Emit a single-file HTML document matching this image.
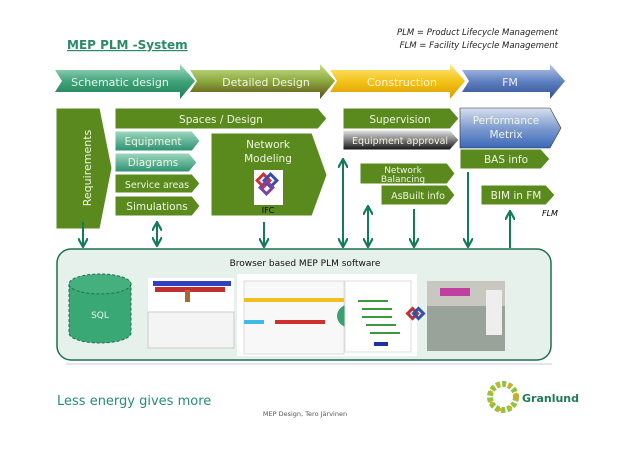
<!DOCTYPE html>
<html><head><meta charset="utf-8"><style>
body{margin:0;background:#fff;}
svg text{font-family:"DejaVu Sans","Liberation Sans",sans-serif;}
</style></head><body>
<svg width="638" height="452" viewBox="0 0 638 452" xmlns="http://www.w3.org/2000/svg">
<defs>
<linearGradient id="g1" x1="0" y1="0" x2="0" y2="1"><stop offset="0" stop-color="#a8dcc4"/><stop offset="0.5" stop-color="#3fa37a"/><stop offset="1" stop-color="#1f7a55"/></linearGradient>
<linearGradient id="g2" x1="0" y1="0" x2="0" y2="1"><stop offset="0" stop-color="#c8e08c"/><stop offset="0.5" stop-color="#8aa83e"/><stop offset="1" stop-color="#5a4a1a"/></linearGradient>
<linearGradient id="g3" x1="0" y1="0" x2="0" y2="1"><stop offset="0" stop-color="#ffe680"/><stop offset="0.5" stop-color="#f4c318"/><stop offset="1" stop-color="#d89a00"/></linearGradient>
<linearGradient id="g4" x1="0" y1="0" x2="0" y2="1"><stop offset="0" stop-color="#b8c8e8"/><stop offset="0.5" stop-color="#5f80c0"/><stop offset="1" stop-color="#2f4f90"/></linearGradient>
<linearGradient id="gt" x1="0" y1="0" x2="0" y2="1"><stop offset="0" stop-color="#9fd8c0"/><stop offset="1" stop-color="#2a9070"/></linearGradient>
<linearGradient id="gg" x1="0" y1="0" x2="0" y2="1"><stop offset="0" stop-color="#e8e8e8"/><stop offset="1" stop-color="#111"/></linearGradient>
<linearGradient id="gb" x1="0" y1="0" x2="0" y2="1"><stop offset="0" stop-color="#d8e0ee"/><stop offset="0.5" stop-color="#7f9cd0"/><stop offset="1" stop-color="#3a68b8"/></linearGradient>
<marker id="ah" viewBox="0 0 10 10" refX="8" refY="5" markerWidth="5" markerHeight="5" orient="auto-start-reverse"><path d="M0,0 L9,5 L0,10" fill="none" stroke="#157a5a" stroke-width="2.2"/></marker>
</defs>
<text x="67" y="49" font-size="12" font-weight="bold" fill="#2a8a6a" text-decoration="underline">MEP PLM -System</text>
<text x="558" y="35" font-size="8.5" font-style="italic" text-anchor="end" fill="#222" font-family="Liberation Sans Narrow,Liberation Sans,sans-serif">PLM = Product Lifecycle Management</text>
<text x="558" y="48" font-size="8.5" font-style="italic" text-anchor="end" fill="#222" font-family="Liberation Sans Narrow,Liberation Sans,sans-serif">FLM = Facility Lifecycle Management</text>
<!-- phases -->
<path d="M55,70 L180,70 L180,64 L195,81 L180,99 L180,92 L55,92 L62,81Z" fill="url(#g1)"/>
<text x="120" y="86" font-size="11" fill="#e6f5ee" text-anchor="middle">Schematic design</text>
<path d="M190,70 L320,70 L320,64 L335,81 L320,99 L320,92 L190,92 L197,81Z" fill="url(#g2)"/>
<text x="266" y="86" font-size="11" fill="#f3f6e0" text-anchor="middle">Detailed Design</text>
<path d="M330,70 L450,70 L450,64 L465,81 L450,99 L450,92 L330,92 L337,81Z" fill="url(#g3)"/>
<text x="402" y="86" font-size="11" fill="#fff6d8" text-anchor="middle">Construction</text>
<path d="M462,70 L550,70 L550,64 L565,81 L550,99 L550,92 L462,92 L469,81Z" fill="url(#g4)"/>
<text x="510" y="86" font-size="11" fill="#eef2fb" text-anchor="middle">FM</text>
<!-- green boxes -->
<g fill="#5a8a1e" stroke="#fff" stroke-width="1">
<path d="M56,108 L100,108 L112,168 L100,229 L56,229Z"/>
<path d="M115,108 L318,108 L327,118.5 L318,129 L115,129Z"/>
<path d="M115,174 L192,174 L200,183.5 L192,193 L115,193Z"/>
<path d="M115,196 L192,196 L200,206 L192,216 L115,216Z"/>
<path d="M211,133 L312,133 L327,175 L312,216 L211,216Z"/>
<path d="M343,108 L450,108 L459,118.5 L450,129 L343,129Z"/>
<path d="M360,163 L447,163 L455,173.5 L447,184 L360,184Z"/>
<path d="M381,185 L447,185 L455,195 L447,205 L381,205Z"/>
<path d="M460,149 L541,149 L550,159 L541,169 L460,169Z"/>
<path d="M481,185 L546,185 L555,195 L546,205 L481,205Z"/>
</g>
<path d="M115,131 L192,131 L200,141 L192,151 L115,151Z" fill="url(#gt)" stroke="#fff"/>
<path d="M115,153 L189,153 L197,162.5 L189,172 L115,172Z" fill="url(#gt)" stroke="#fff"/>
<path d="M343,130 L450,130 L459,140 L450,150 L343,150Z" fill="url(#gg)" stroke="#fff"/>
<path d="M460,108 L550,108 L561,128 L550,148 L460,148Z" fill="url(#gb)" stroke="#333" stroke-width="0.6"/>
<g fill="#f0f5e0" font-size="10.5" text-anchor="middle">
<text transform="translate(91,168) rotate(-90)" font-size="11">Requirements</text>
<text x="221" y="123">Spaces / Design</text>
<text x="153" y="145">Equipment</text>
<text x="153" y="166">Diagrams</text>
<text x="157" y="188" font-size="9.5">Service areas</text>
<text x="157" y="210">Simulations</text>
<text x="268" y="148">Network</text>
<text x="268" y="162">Modeling</text>
<text x="400" y="123">Supervision</text>
<text x="400" y="144" font-size="9.5">Equipment approval</text>
<text x="403" y="173" font-size="9">Network</text>
<text x="403" y="182" font-size="9">Balancing</text>
<text x="418" y="199" font-size="9.5">AsBuilt info</text>
<text x="506" y="124">Performance</text>
<text x="506" y="138">Metrix</text>
<text x="506" y="163">BAS info</text>
<text x="516" y="199">BIM in FM</text>
</g>
<!-- IFC logo -->
<rect x="254" y="170" width="29" height="35" fill="#fff"/>
<g fill="none" stroke-width="3"><rect x="259" y="176" width="9" height="9" transform="rotate(45 263.5 180.5)" stroke="#d03030"/><rect x="266" y="176" width="9" height="9" transform="rotate(45 270.5 180.5)" stroke="#3050b0"/><rect x="262" y="183" width="9" height="9" transform="rotate(45 266.5 187.5)" stroke="#8040a0"/></g>
<text x="268" y="213" font-size="8" fill="#000" text-anchor="middle" font-family="Liberation Sans Narrow,sans-serif">IFC</text>
<text x="542" y="216" font-size="8" font-style="italic" fill="#000">FLM</text>
<!-- arrows -->
<g stroke="#157a5a" stroke-width="2" fill="none">
<line x1="83" y1="222" x2="83" y2="246" marker-end="url(#ah)"/>
<line x1="157" y1="223" x2="157" y2="245" marker-start="url(#ah)" marker-end="url(#ah)"/>
<line x1="264" y1="222" x2="264" y2="246" marker-end="url(#ah)"/>
<line x1="343" y1="160" x2="343" y2="246" marker-start="url(#ah)" marker-end="url(#ah)"/>
<line x1="368" y1="207" x2="368" y2="246" marker-start="url(#ah)" marker-end="url(#ah)"/>
<line x1="414" y1="209" x2="414" y2="246" marker-end="url(#ah)"/>
<line x1="468" y1="172" x2="468" y2="246" marker-end="url(#ah)"/>
<line x1="510" y1="248" x2="510" y2="212" marker-end="url(#ah)"/>
</g>
<!-- bottom box -->
<rect x="57" y="249" width="494" height="111" rx="14" fill="#e5f1ea" stroke="#1f6e50" stroke-width="1.5"/>
<line x1="66" y1="364" x2="552" y2="364" stroke="#ccc"/>
<text x="305" y="266" font-size="9" fill="#111" text-anchor="middle">Browser based MEP PLM software</text>
<path d="M69,284 L69,333 A31,10 0 0 0 131,333 L131,284" fill="#3aa874" stroke="#1f6e50" stroke-dasharray="3,2"/>
<ellipse cx="100" cy="284" rx="31" ry="10" fill="#45b07e" stroke="#1f6e50" stroke-dasharray="3,2"/>
<text x="100" y="318" font-size="9" fill="#e8f5ee" text-anchor="middle">SQL</text>
<rect x="148" y="278" width="86" height="70" fill="#fff"/>
<rect x="153" y="281" width="78" height="5" fill="#3040c0"/><rect x="155" y="287" width="70" height="5" fill="#c03030"/><rect x="185" y="290" width="5" height="12" fill="#aa6633"/>
<rect x="148" y="312" width="86" height="36" fill="#f4f4f4" stroke="#ccc"/>
<rect x="237" y="274" width="180" height="82" fill="#fff"/>
<rect x="244" y="281" width="100" height="73" fill="#f8f8f8" stroke="#ddd"/>
<rect x="244" y="298" width="100" height="4" fill="#f0c020"/><rect x="244" y="320" width="20" height="4" fill="#40b8e8"/><rect x="275" y="320" width="50" height="4" fill="#d03030"/>
<ellipse cx="351" cy="316" rx="14" ry="12" fill="#3aa070"/><text x="351" y="320" font-size="7" fill="#eef" text-anchor="middle">SQL</text>
<rect x="345" y="281" width="66" height="71" fill="#fff" stroke="#ddd"/>
<g fill="#3a9a3a"><rect x="358" y="300" width="30" height="2"/><rect x="362" y="308" width="30" height="2"/><rect x="362" y="316" width="30" height="2"/><rect x="366" y="324" width="30" height="2"/><rect x="370" y="332" width="30" height="2"/><rect x="374" y="342" width="14" height="4" fill="#2030a0"/></g>
<g fill="none" stroke-width="3"><rect x="409" y="310" width="7" height="7" transform="rotate(45 412.5 313.5)" stroke="#c03030"/><rect x="415" y="310" width="7" height="7" transform="rotate(45 418.5 313.5)" stroke="#3050b0"/></g>
<rect x="427" y="281" width="78" height="70" fill="#9aa39a"/>
<rect x="427" y="281" width="78" height="25" fill="#c8c8c0"/><rect x="440" y="288" width="30" height="8" fill="#c040a0"/><rect x="486" y="290" width="16" height="45" fill="#eee"/>
<text x="57" y="405" font-size="13" fill="#2a8a7a" font-family="Liberation Sans,sans-serif">Less energy gives more</text>
<text x="305" y="416" font-size="6.5" fill="#555" text-anchor="middle" font-family="Liberation Sans Narrow,Liberation Sans,sans-serif">MEP Design, Tero Järvinen</text>
<circle cx="503" cy="397" r="13" fill="none" stroke="#8cc63f" stroke-width="6" stroke-dasharray="4,2"/>
<circle cx="503" cy="397" r="13" fill="none" stroke="#f0a020" stroke-width="3" stroke-dasharray="3,8"/>
<text x="522" y="402" font-size="11" font-weight="bold" fill="#1f7a5a">Granlund</text>
</svg>
</body></html>
